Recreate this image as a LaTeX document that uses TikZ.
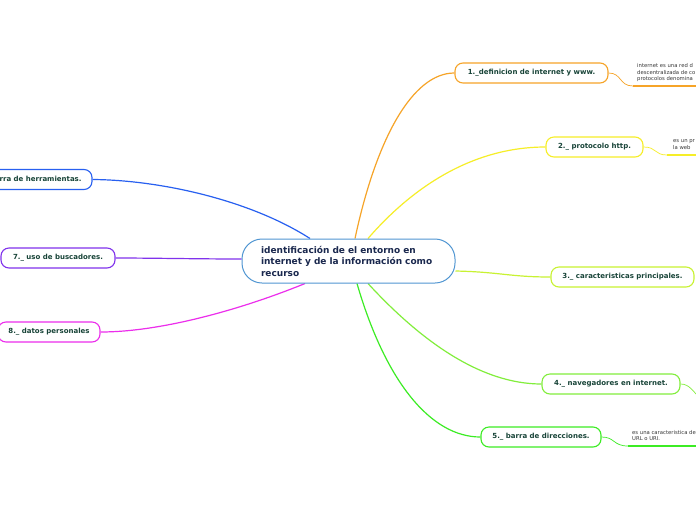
\documentclass[tikz,border=0pt]{standalone}
\usepackage{fontspec}
\setmainfont{DejaVu Sans}
\usetikzlibrary{calc,backgrounds}
\definecolor{txtgreen}{RGB}{24,68,56}
\definecolor{txtnavy}{RGB}{26,40,78}
\definecolor{subtxt}{RGB}{55,55,55}
\definecolor{cnavy}{RGB}{80,150,210}
\definecolor{corange}{RGB}{246,164,40}
\definecolor{cyellow}{RGB}{246,238,40}
\definecolor{cyg}{RGB}{200,242,50}
\definecolor{clg}{RGB}{130,238,60}
\definecolor{cgreen}{RGB}{60,236,36}
\definecolor{cblue}{RGB}{40,96,240}
\definecolor{cpurple}{RGB}{128,50,236}
\definecolor{cmag}{RGB}{236,46,236}
\tikzset{
  topicbox/.style={draw, rounded corners=8pt, fill=white, line width=1.1pt,
    minimum height=20pt, inner sep=0pt, font=\fontsize{7}{8}\selectfont\bfseries,
    text=txtgreen},
  centralbox/.style={draw=cnavy, rounded corners=20pt, fill=white, line width=1pt,
    minimum height=44pt, minimum width=213pt, inner sep=0pt, text width=175pt, align=left,
    font=\fontsize{9}{11.5}\selectfont\bfseries, text=txtnavy},
  subnote/.style={anchor=north west, inner sep=0pt, align=left,
    font=\fontsize{5.3}{6.5}\selectfont, text=subtxt},
  conn/.style={line width=1.2pt},
  subconn/.style={line width=0.7pt},
  uline/.style={line width=1.6pt}
}
\begin{document}
\begin{tikzpicture}[x=1pt,y=-1pt]
\useasboundingbox (0,0) rectangle (696,520);

\node[centralbox] (c) at (348.5,261) {identificación de el entorno en\\internet y de la información como\\recurso};

\node[topicbox, draw=corange, minimum width=153pt] (n1) at (531.5,73) {1.\_definicion de internet y www.};
\node[topicbox, draw=cyellow, minimum width=97pt] (n2) at (594.5,147) {2.\_ protocolo http.};
\node[topicbox, draw=cyg, minimum width=143pt] (n3) at (622.5,277) {3.\_ caracteristicas principales.};
\node[topicbox, draw=clg, minimum width=138pt] (n4) at (611,384) {4.\_ navegadores en internet.};
\node[topicbox, draw=cgreen, minimum width=120pt] (n5) at (541,437) {5.\_ barra de direcciones.};
\node[topicbox, draw=cblue, minimum width=126pt] (n6) at (29,179.5) {6.\_ barra de herramientas.};
\node[topicbox, draw=cpurple, minimum width=114pt] (n7) at (58,258) {7.\_ uso de buscadores.};
\node[topicbox, draw=cmag, minimum width=102pt] (n8) at (49,332) {8.\_ datos personales};

\node[subnote] (p1) at (637,63.5) {internet es una red d\\descentralizada de co\\protocolos denomina};
\node[subnote] (p2) at (673,139.5) {es un pr\\la web};
\node[subnote] (p5) at (632,430) {es una caracteristica de\\URL o URI.};

\coordinate (u1) at (633,86);
\coordinate (u1e) at (700,86);
\coordinate (u2) at (667,155);
\coordinate (u2e) at (700,155);
\coordinate (u5) at (628,446);
\coordinate (u5e) at (700,446);
\coordinate (e4) at (702,400);

\begin{pgfonlayer}{background}
\fill[white] (0,0) rectangle (696,520);
\draw[conn, corange] ($(c.north)+(6.5,0)$) .. controls (376,140) and (412,73) .. (n1.west);
\draw[conn, cyellow] ($(c.north)+(19.5,0)$) .. controls (410,190) and (470,147) .. (n2.west);
\draw[conn, cyg] ($(c.east)+(0,10)$) .. controls (500,272) and (510,277) .. (n3.west);
\draw[conn, clg] ($(c.south)+(19.5,0)$) .. controls (420,340) and (480,384) .. (n4.west);
\draw[conn, cgreen] ($(c.south)+(8.5,0)$) .. controls (385,380) and (430,437) .. (n5.west);
\draw[conn, cblue] ($(c.north)+(-38.5,0)$) .. controls (250,200) and (160,180) .. (n6.east);
\draw[conn, cpurple] ($(c.west)+(0,-2)$) .. controls (200,259) and (150,258) .. (n7.east);
\draw[conn, cmag] ($(c.south)+(-43.5,0)$) .. controls (240,310) and (160,332) .. (n8.east);

\draw[subconn, corange] (n1.east) .. controls (622,73) and (619,86) .. (u1);
\draw[subconn, cyellow] (n2.east) .. controls (657,147) and (654,155) .. (u2);
\draw[subconn, clg] (n4.east) .. controls (690,384) and (693,392) .. (e4);
\draw[subconn, cgreen] (n5.east) .. controls (615,437) and (613,446) .. (u5);
\end{pgfonlayer}

\draw[uline, corange] (u1) -- (u1e);
\draw[uline, cyellow] (u2) -- (u2e);
\draw[uline, cgreen] (u5) -- (u5e);
\end{tikzpicture}
\end{document}
